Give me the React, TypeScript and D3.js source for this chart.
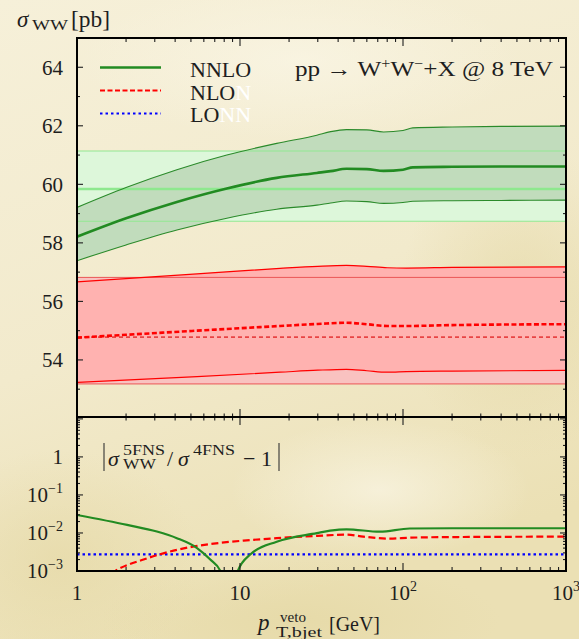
import React from "react";
import * as d3 from "d3";

// ---------- data ----------
const nnloPt = [1, 2, 4.1, 8.3, 16.8, 29.6, 36, 45, 60, 76, 100, 115, 200, 400, 1000];
const nnloCentral = [58.21, 58.84, 59.4, 59.86, 60.22, 60.39, 60.45, 60.53, 60.52, 60.46, 60.5, 60.58, 60.6, 60.61, 60.61];
const nnloUpper = [59.21, 59.89, 60.5, 61.0, 61.4, 61.68, 61.8, 61.87, 61.86, 61.79, 61.84, 61.93, 61.96, 61.98, 61.99];
const nnloLower = [57.39, 57.93, 58.44, 58.84, 59.15, 59.29, 59.36, 59.43, 59.41, 59.35, 59.38, 59.42, 59.44, 59.45, 59.46];

const nloPt = [1, 5.45, 17.6, 30, 45, 60, 80, 105, 200, 1000];
const nloUpper = [56.67, 56.94, 57.13, 57.2, 57.23, 57.2, 57.15, 57.14, 57.16, 57.18];
const nloCentral = [54.76, 55.0, 55.16, 55.23, 55.27, 55.22, 55.16, 55.16, 55.19, 55.22];
const nloLower = [53.23, 53.43, 53.58, 53.65, 53.68, 53.63, 53.58, 53.6, 53.62, 53.64];

const flatPt = [1, 1000];
const nnlo4fns = [58.74, 59.84, 61.14]; // lower, central, upper
const nlo4fns = [53.18, 54.78, 56.82];

const ratioNnloPt = [1, 2.03, 3.09, 4.1, 5.45, 6.57, 7.58, 8.6, 9.7, 11.6, 16.8, 29.6, 35.7, 45, 72, 110, 200, 1000];
const ratioNnlo = [0.0297, 0.0163, 0.0109, 0.0073, 0.004, 0.002, 0.001, 0.00001, 0.001, 0.00275, 0.0059, 0.0099, 0.0115, 0.0125, 0.0108, 0.0131, 0.0133, 0.0133];
const ratioNloPt = [1, 1.4, 1.72, 2.56, 4.1, 6.57, 10.5, 16.8, 29.6, 45, 57, 83, 110, 200, 1000];
const ratioNlo = [0.0002, 0.0005, 0.001, 0.002, 0.0036, 0.0051, 0.0063, 0.0073, 0.0084, 0.009, 0.008, 0.0071, 0.0075, 0.0078, 0.008];
const ratioLoPt = [1, 1000];
const ratioLo = [0.00275, 0.00275];

const xMajor = [1, 10, 100, 1000];
const xMajorLabel = ["1", "10", "10", "10"];
const xMajorExp = ["", "", "2", "3"];
const yTopLabels = [54, 56, 58, 60, 62, 64];
const yBotMajor = [1e-3, 1e-2, 1e-1, 1, 10];
const yBotLabelVals = [1, 0.1, 0.01, 0.001];
const yBotLabelExp = ["", "−1", "−2", "−3"];

const legendNames = ["NNLO", "NLO", "LO"];
const legendGhost = ["", "N", "NN"];

// ---------- layout ----------
const W = 579, H = 639;
const L = 77, R = 566, T = 38, MID = 417, B = 571;
const FONT = "'Liberation Serif', 'DejaVu Serif', serif";
const INK = "#1e1e1e";

export default function App() {
  const x = d3.scaleLog().domain([1, 1000]).range([L, R]);
  const yTop = d3.scaleLinear().domain([52.05, 65]).range([MID, T]);
  const yBot = d3.scaleLog().domain([1e-3, 11.2]).range([B, MID]);

  const zip = (xs: number[], ys: number[]) => xs.map((v, i) => [v, ys[i]] as [number, number]);
  const band = (xs: number[], lo: number[], hi: number[]) =>
    d3.area<number>().x((_, i) => x(xs[i])).y0((_, i) => yTop(lo[i])).y1((_, i) => yTop(hi[i])).curve(d3.curveMonotoneX)(xs) || "";
  const lineTop = d3.line<[number, number]>().x(d => x(d[0])).y(d => yTop(d[1])).curve(d3.curveMonotoneX);
  const lineBot = d3.line<[number, number]>().x(d => x(d[0])).y(d => yBot(d[1])).curve(d3.curveMonotoneX);

  const xMinor: number[] = [];
  [1, 10, 100].forEach(d => { for (let k = 2; k <= 9; k++) xMinor.push(k * d); });
  const yTopMinor = d3.range(53, 65, 2);
  const yBotMinor: number[] = [];
  [1e-3, 1e-2, 1e-1, 1].forEach(d => { for (let k = 2; k <= 9; k++) yBotMinor.push(k * d); });

  const flatBand = (v: number[]) => band(flatPt, [v[0], v[0]], [v[2], v[2]]);
  const flatLine = (val: number) => lineTop(zip(flatPt, [val, val])) || "";

  return (
    <svg width={W} height={H} style={{ position: "absolute", left: 0, top: 0, display: "block" }} fontFamily={FONT}>
      <defs>
        <linearGradient id="bg" x1="0" y1="0" x2="0.3" y2="1">
          <stop offset="0" stopColor="#f6f0d9" />
          <stop offset="0.55" stopColor="#f2eacc" />
          <stop offset="1" stopColor="#ebe0b4" />
        </linearGradient>
        <radialGradient id="blob1" cx="0.5" cy="0.5" r="0.5">
          <stop offset="0" stopColor="#e3d6a0" stopOpacity="0.55" />
          <stop offset="1" stopColor="#e3d6a0" stopOpacity="0" />
        </radialGradient>
        <radialGradient id="blob2" cx="0.5" cy="0.5" r="0.5">
          <stop offset="0" stopColor="#faf6e6" stopOpacity="0.7" />
          <stop offset="1" stopColor="#faf6e6" stopOpacity="0" />
        </radialGradient>
        <clipPath id="clipTop"><rect x={L} y={T} width={R - L} height={MID - T} /></clipPath>
        <clipPath id="clipBot"><rect x={L} y={MID} width={R - L} height={B - MID} /></clipPath>
      </defs>

      {/* parchment background */}
      <rect x={0} y={0} width={W} height={H} fill="url(#bg)" />
      <ellipse cx={60} cy={560} rx={140} ry={110} fill="url(#blob1)" />
      <ellipse cx={300} cy={620} rx={200} ry={60} fill="url(#blob1)" />
      <ellipse cx={520} cy={300} rx={120} ry={160} fill="url(#blob1)" />
      <ellipse cx={300} cy={60} rx={220} ry={80} fill="url(#blob2)" />
      <ellipse cx={380} cy={490} rx={150} ry={70} fill="url(#blob2)" />

      {/* ---------- top panel ---------- */}
      <g clipPath="url(#clipTop)">
        <path d={flatBand(nlo4fns)} fill="#f9c2c0" />
        <path d={band(nloPt, nloLower, nloUpper)} fill="#ffb2b0" />
        <path d={flatLine(nlo4fns[0])} fill="none" stroke="#ea5555" strokeWidth={1} />
        <path d={flatLine(nlo4fns[2])} fill="none" stroke="#ea5555" strokeWidth={1} />
        <path d={flatLine(nlo4fns[1])} fill="none" stroke="#e84444" strokeWidth={1.6} strokeDasharray="4,3" />
        <path d={lineTop(zip(nloPt, nloUpper)) || ""} fill="none" stroke="#ff0000" strokeWidth={1.2} />
        <path d={lineTop(zip(nloPt, nloLower)) || ""} fill="none" stroke="#ff0000" strokeWidth={1.2} />
        <path d={lineTop(zip(nloPt, nloCentral)) || ""} fill="none" stroke="#ff0000" strokeWidth={2.6} strokeDasharray="5,2.5" />

        <path d={flatBand(nnlo4fns)} fill="#ddf7da" />
        <path d={band(nnloPt, nnloLower, nnloUpper)} fill="#c1dcbc" />
        <path d={flatLine(nnlo4fns[0])} fill="none" stroke="#92e892" strokeWidth={1.1} />
        <path d={flatLine(nnlo4fns[2])} fill="none" stroke="#92e892" strokeWidth={1.1} />
        <path d={flatLine(nnlo4fns[1])} fill="none" stroke="#8ee88e" strokeWidth={2.6} />
        <path d={lineTop(zip(nnloPt, nnloUpper)) || ""} fill="none" stroke="#2a8a2a" strokeWidth={1.1} />
        <path d={lineTop(zip(nnloPt, nnloLower)) || ""} fill="none" stroke="#2a8a2a" strokeWidth={1.1} />
        <path d={lineTop(zip(nnloPt, nnloCentral)) || ""} fill="none" stroke="#228b22" strokeWidth={2.6} />
      </g>

      {/* ---------- bottom panel ---------- */}
      <g clipPath="url(#clipBot)">
        <path d={lineBot(zip(ratioLoPt, ratioLo)) || ""} fill="none" stroke="#0000ff" strokeWidth={2.2} strokeDasharray="2.5,3" />
        <path d={lineBot(zip(ratioNloPt, ratioNlo)) || ""} fill="none" stroke="#ff0000" strokeWidth={2.2} strokeDasharray="7,3.5" />
        <path d={lineBot(zip(ratioNnloPt, ratioNnlo)) || ""} fill="none" stroke="#228b22" strokeWidth={2.2} />
      </g>

      {/* ---------- ticks ---------- */}
      <g stroke={INK} strokeWidth={1.1}>
        {xMinor.map(v => (
          <g key={"xm" + v}>
            <line x1={x(v)} x2={x(v)} y1={T} y2={T + 4} />
            <line x1={x(v)} x2={x(v)} y1={MID - 3.5} y2={MID + 3.5} />
            <line x1={x(v)} x2={x(v)} y1={B} y2={B - 4} />
          </g>
        ))}
        {xMajor.map(v => (
          <g key={"xM" + v}>
            <line x1={x(v)} x2={x(v)} y1={T} y2={T + 8} />
            <line x1={x(v)} x2={x(v)} y1={MID - 8} y2={MID + 8} />
            <line x1={x(v)} x2={x(v)} y1={B} y2={B - 8} />
          </g>
        ))}
        {yTopLabels.map(v => (
          <g key={"ytM" + v}>
            <line x1={L} x2={L + 6} y1={yTop(v)} y2={yTop(v)} />
            <line x1={R} x2={R - 6} y1={yTop(v)} y2={yTop(v)} />
          </g>
        ))}
        {yTopMinor.map(v => (
          <g key={"ytm" + v}>
            <line x1={L} x2={L + 3} y1={yTop(v)} y2={yTop(v)} />
            <line x1={R} x2={R - 3} y1={yTop(v)} y2={yTop(v)} />
          </g>
        ))}
        {yBotMajor.map(v => (
          <g key={"ybM" + v}>
            <line x1={L} x2={L + 6} y1={yBot(v)} y2={yBot(v)} />
            <line x1={R} x2={R - 6} y1={yBot(v)} y2={yBot(v)} />
          </g>
        ))}
        {yBotMinor.map(v => (
          <g key={"ybm" + v}>
            <line x1={L} x2={L + 3} y1={yBot(v)} y2={yBot(v)} />
            <line x1={R} x2={R - 3} y1={yBot(v)} y2={yBot(v)} />
          </g>
        ))}
      </g>

      {/* frames */}
      <rect x={L} y={T} width={R - L} height={MID - T} fill="none" stroke="#000" strokeWidth={2} />
      <rect x={L} y={MID} width={R - L} height={B - MID} fill="none" stroke="#000" strokeWidth={2} />

      {/* ---------- tick labels ---------- */}
      <g fill={INK} fontSize={21}>
        {yTopLabels.map(v => (
          <text key={"ytl" + v} x={63} y={yTop(v) + 7.5} textAnchor="end">{v}</text>
        ))}
        {yBotLabelVals.map((v, i) => (
          <text key={"ybl" + v} x={63} y={yBot(v) + 7} textAnchor="end">
            {yBotLabelExp[i] ? "10" : "1"}
            {yBotLabelExp[i] ? <tspan fontSize={14} dy={-9}>{yBotLabelExp[i]}</tspan> : null}
          </text>
        ))}
        {xMajor.map((v, i) => (
          <text key={"xl" + v} x={x(v)} y={600} textAnchor="middle">
            {xMajorLabel[i]}
            {xMajorExp[i] ? <tspan fontSize={14} dy={-9}>{xMajorExp[i]}</tspan> : null}
          </text>
        ))}
      </g>

      {/* ---------- axis titles ---------- */}
      <g fill={INK}>
        <text x={17} y={27} fontSize={23} fontStyle="italic">σ</text>
        <text x={32} y={30} fontSize={15.5} textLength={36} lengthAdjust="spacingAndGlyphs">WW</text>
        <text x={71} y={27} fontSize={23} textLength={39} lengthAdjust="spacingAndGlyphs">[pb]</text>

        <text x={258} y={630} fontSize={23} fontStyle="italic">p</text>
        <text x={280} y={622} fontSize={14} textLength={26} lengthAdjust="spacingAndGlyphs">veto</text>
        <text x={276} y={637} fontSize={15} textLength={46} lengthAdjust="spacingAndGlyphs">T,bjet</text>
        <text x={329} y={631} fontSize={22} textLength={51} lengthAdjust="spacingAndGlyphs">[GeV]</text>
      </g>

      {/* ---------- title ---------- */}
      <text x={295} y={76} fontSize={22} fill={INK} textLength={258} lengthAdjust="spacingAndGlyphs">
        pp → W<tspan fontSize={14} dy={-8}>+</tspan><tspan dy={8}>W</tspan><tspan fontSize={14} dy={-8}>−</tspan><tspan dy={8}>+X @ 8 TeV</tspan>
      </text>

      {/* ---------- legend ---------- */}
      <line x1={100} x2={161} y1={67.5} y2={67.5} stroke="#228b22" strokeWidth={2.4} />
      <line x1={100} x2={161} y1={90.5} y2={90.5} stroke="#ff0000" strokeWidth={2.2} strokeDasharray="5,2.5" />
      <line x1={100} x2={161} y1={113.5} y2={113.5} stroke="#0000ff" strokeWidth={2.2} strokeDasharray="2.5,3" />
      {legendNames.map((n, i) => (
        <text key={n} x={190} y={77 + i * 22.5} fontSize={22} fill={INK}>
          {n}<tspan fill="#ffffff">{legendGhost[i]}</tspan>
        </text>
      ))}

      {/* ---------- ratio label ---------- */}
      <g fill={INK}>
        <line x1={104} x2={104} y1={443} y2={471} stroke="#333" strokeWidth={1.1} />
        <text x={108} y={466} fontSize={22} fontStyle="italic">σ</text>
        <text x={123} y={455} fontSize={14} textLength={42} lengthAdjust="spacingAndGlyphs">5FNS</text>
        <text x={123} y={469} fontSize={14} textLength={33} lengthAdjust="spacingAndGlyphs">WW</text>
        <text x={167} y={466} fontSize={22}>/</text>
        <text x={178} y={466} fontSize={22} fontStyle="italic">σ</text>
        <text x={193} y={455} fontSize={14} textLength={42} lengthAdjust="spacingAndGlyphs">4FNS</text>
        <text x={243} y={466} fontSize={22}>− 1</text>
        <line x1={279} x2={279} y1={443} y2={471} stroke="#333" strokeWidth={1.1} />
      </g>
    </svg>
  );
}
